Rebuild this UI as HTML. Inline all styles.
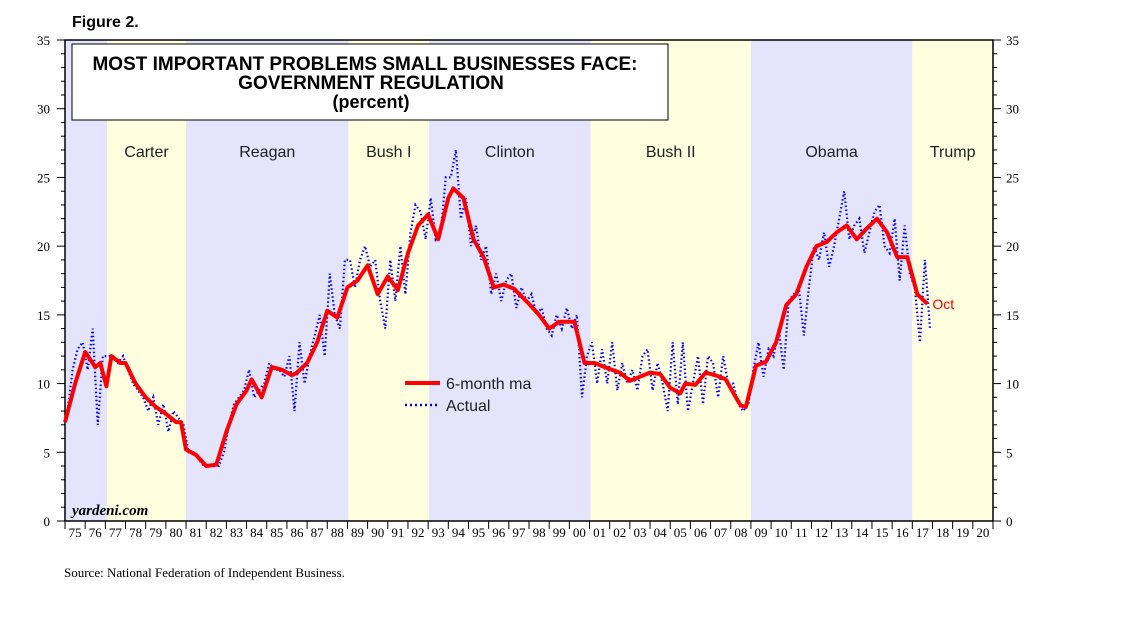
<!DOCTYPE html>
<html><head><meta charset="utf-8"><style>
body{margin:0;background:#fff;width:1138px;height:621px;overflow:hidden;font-family:"Liberation Sans",sans-serif}
</style></head><body>
<svg id="chart" width="1138" height="621" xmlns="http://www.w3.org/2000/svg" font-family="Liberation Sans, sans-serif">
<text x="72" y="27" font-size="16" font-weight="bold">Figure 2.</text>
<g id="bands"></g>
<g id="grid"></g>
<rect x="72" y="44" width="596" height="76" fill="#fff" stroke="#000" stroke-width="1"/>
<text text-anchor="middle" font-weight="bold" font-size="19"><tspan x="365" y="70">MOST IMPORTANT PROBLEMS SMALL BUSINESSES FACE:</tspan><tspan x="371" y="89">GOVERNMENT REGULATION</tspan><tspan x="371" y="108" font-size="18">(percent)</tspan></text>
<g id="series"></g>
<g>
<line x1="405" y1="383" x2="440" y2="383" stroke="#f00" stroke-width="4"/>
<text x="446" y="389" font-size="16" fill="#222">6-month ma</text>
<line x1="405" y1="405" x2="440" y2="405" stroke="#00f" stroke-width="2.5" stroke-dasharray="2,3"/>
<text x="446" y="411" font-size="16" fill="#222">Actual</text>
</g>
<text x="72" y="515" font-family="Liberation Serif, serif" font-style="italic" font-weight="bold" font-size="15">yardeni.com</text>
<text x="64" y="577" font-family="Liberation Serif, serif" font-size="13">Source: National Federation of Independent Business.</text>
</svg>
<script>
const presidents=["","Carter","Reagan","Bush I","Clinton","Bush II","Obama","Trump"];
const termStarts=[1975,1977.08,1981.0,1989.05,1993.05,2001.05,2009.0,2017.0];
const maYears=[1975,1975.5,1976,1976.5,1976.75,1977.05,1977.3,1977.75,1978,1978.5,1979,1979.5,1980,1980.5,1980.75,1981,1981.5,1982,1982.5,1983,1983.5,1984,1984.25,1984.75,1985.25,1985.75,1986.25,1986.5,1987,1987.5,1988,1988.5,1989,1989.5,1990,1990.5,1991,1991.5,1992,1992.5,1993,1993.5,1994,1994.25,1994.75,1995.25,1995.75,1996.25,1996.75,1997.25,1998,1998.5,1999,1999.5,2000.25,2000.75,2001.25,2001.75,2002.5,2003,2003.5,2004,2004.5,2005,2005.5,2005.75,2006.25,2006.75,2007.25,2007.75,2008.25,2008.5,2008.75,2009.25,2009.75,2010.25,2010.75,2011.25,2011.75,2012.25,2012.75,2013.25,2013.75,2014.25,2014.75,2015.25,2015.75,2016.25,2016.75,2017.25,2017.75];
const maValues=[7.2,10,12.3,11.2,11.5,9.8,12,11.5,11.5,10,9,8.3,7.8,7.2,7.2,5.2,4.8,4.0,4.1,6.5,8.5,9.5,10.3,9,11.2,11,10.6,10.8,11.5,13,15.3,14.8,17,17.5,18.6,16.5,17.8,16.8,19.5,21.5,22.3,20.5,23.5,24.2,23.5,20.5,19.2,17,17.2,16.9,15.8,15,14,14.5,14.5,11.5,11.5,11.2,10.8,10.2,10.5,10.8,10.7,9.7,9.3,10,9.9,10.8,10.6,10.3,9.0,8.4,8.3,11.3,11.6,13.0,15.7,16.5,18.5,20,20.3,21,21.5,20.5,21.3,22,21,19.2,19.2,16.5,15.8];
const actualValues=[8,11,12.5,13, 11,14,7,12, 12,12,11.5,12, 11,10,9.5,9, 8,9,7,8.5, 6.5,8,7.5,7, 5,5,4.5,4, 4,4,4,5, 7,8.5,9,9.5, 11,9,9.5,10, 11.5,11,11,10.5, 12,8,13,10, 12,13.5,15,12, 18,15,14,19, 19,17,19,20, 18.5,19,16,14, 19,16,20,16.5, 21,23,22.5,20.5, 23.5,20.5,21,25, 25,27,22,23.5, 20,21.5,19,20, 16.5,18,16,17.5, 18,15.5,17,16, 16.5,15,15.5,14, 13.5,15,14,15.5, 14,15,9,12, 13,10,12.5,10, 13,9.5,11.5,10, 11,9.5,12,12.5, 9.5,11.5,10,8, 13,8.5,13,8, 10,12,8.5,12, 11.5,9,12,10, 10,8.5,8,8.5, 11,13,10.5,12.5, 12,14,11,16, 16.5,17,13.5,17, 20,19,21,18.5, 20,22,24,20.5, 21.5,22,19.5,21, 22.5,23,20,19.5, 22,17.5,21.5,18, 17,13,19,14];
const yTicks=[0,5,10,15,20,25,30,35];
const yearLabels=["75","76","77","78","79","80","81","82","83","84","85","86","87","88","89","90","91","92","93","94","95","96","97","98","99","00","01","02","03","04","05","06","07","08","09","10","11","12","13","14","15","16","17","18","19","20"];

const NS="http://www.w3.org/2000/svg";
const L=65,R=993,T=40,B=521,Y0=1975,Y1=2021;
const xs=y=>L+(y-Y0)*(R-L)/(Y1-Y0);
const ys=v=>B-v*(B-T)/35;
function mk(tag,attrs,parent){const e=document.createElementNS(NS,tag);for(const k in attrs)e.setAttribute(k,attrs[k]);parent.appendChild(e);return e;}
const bands=document.getElementById('bands');
termStarts.forEach((s,i)=>{
  const e=i+1<termStarts.length?termStarts[i+1]:Y1;
  const r=mk('rect',{x:xs(s),y:T,width:xs(e)-xs(s),height:B-T,fill:i%2?'#ffffe0':'#e4e4fc'},bands);
  
  
  if(presidents[i]){const t=mk('text',{x:(xs(s)+xs(e))/2,y:157,'text-anchor':'middle','font-size':16,fill:'#222'},bands);t.textContent=presidents[i];
  
  }
});
const g=document.getElementById('grid');
mk('rect',{x:L,y:T,width:R-L,height:B-T,fill:'none',stroke:'#000','stroke-width':1.5},g);
for(let v=0;v<=35;v++){
  const len=v%5===0?8:4;
  mk('line',{x1:L-len,x2:L,y1:ys(v),y2:ys(v),stroke:'#000'},g);
  mk('line',{x1:R,x2:R+len,y1:ys(v),y2:ys(v),stroke:'#000'},g);
}
yTicks.forEach(v=>{
  const a=mk('text',{x:50,y:ys(v)+5,'text-anchor':'end','font-family':'Liberation Serif, serif','font-size':13},g);a.textContent=v;
  
  
  const b=mk('text',{x:1006,y:ys(v)+5,'font-family':'Liberation Serif, serif','font-size':13},g);b.textContent=v;
  
  
});
yearLabels.forEach((lab,i)=>{
  mk('line',{x1:xs(Y0+i),x2:xs(Y0+i),y1:B,y2:B+8,stroke:'#000'},g);
  const t=mk('text',{x:xs(Y0+i+0.5),y:B+16,'text-anchor':'middle','font-family':'Liberation Serif, serif','font-size':13},g);t.textContent=lab;
  
  
});
mk('line',{x1:R,x2:R,y1:B,y2:B+8,stroke:'#000'},g);
const s=document.getElementById('series');
const ap=actualValues.map((v,i)=>xs(Y0+i/4+0.125).toFixed(1)+','+ys(v).toFixed(1)).join(' ');
const a=mk('polyline',{points:ap,fill:'none',stroke:'#00f','stroke-width':2.2,'stroke-dasharray':'1.5,2.5'},s);


const mp=maValues.map((v,i)=>xs(maYears[i]).toFixed(1)+','+ys(v).toFixed(1)).join(' ');
const m=mk('polyline',{points:mp,fill:'none',stroke:'#f00','stroke-width':4,'stroke-linejoin':'round'},s);


const last=maValues[maValues.length-1];
const o=mk('text',{x:xs(maYears[maYears.length-1])+5,y:ys(last)+5,'font-size':14,fill:'#f00'},s);o.textContent='Oct';


</script>
</body></html>
